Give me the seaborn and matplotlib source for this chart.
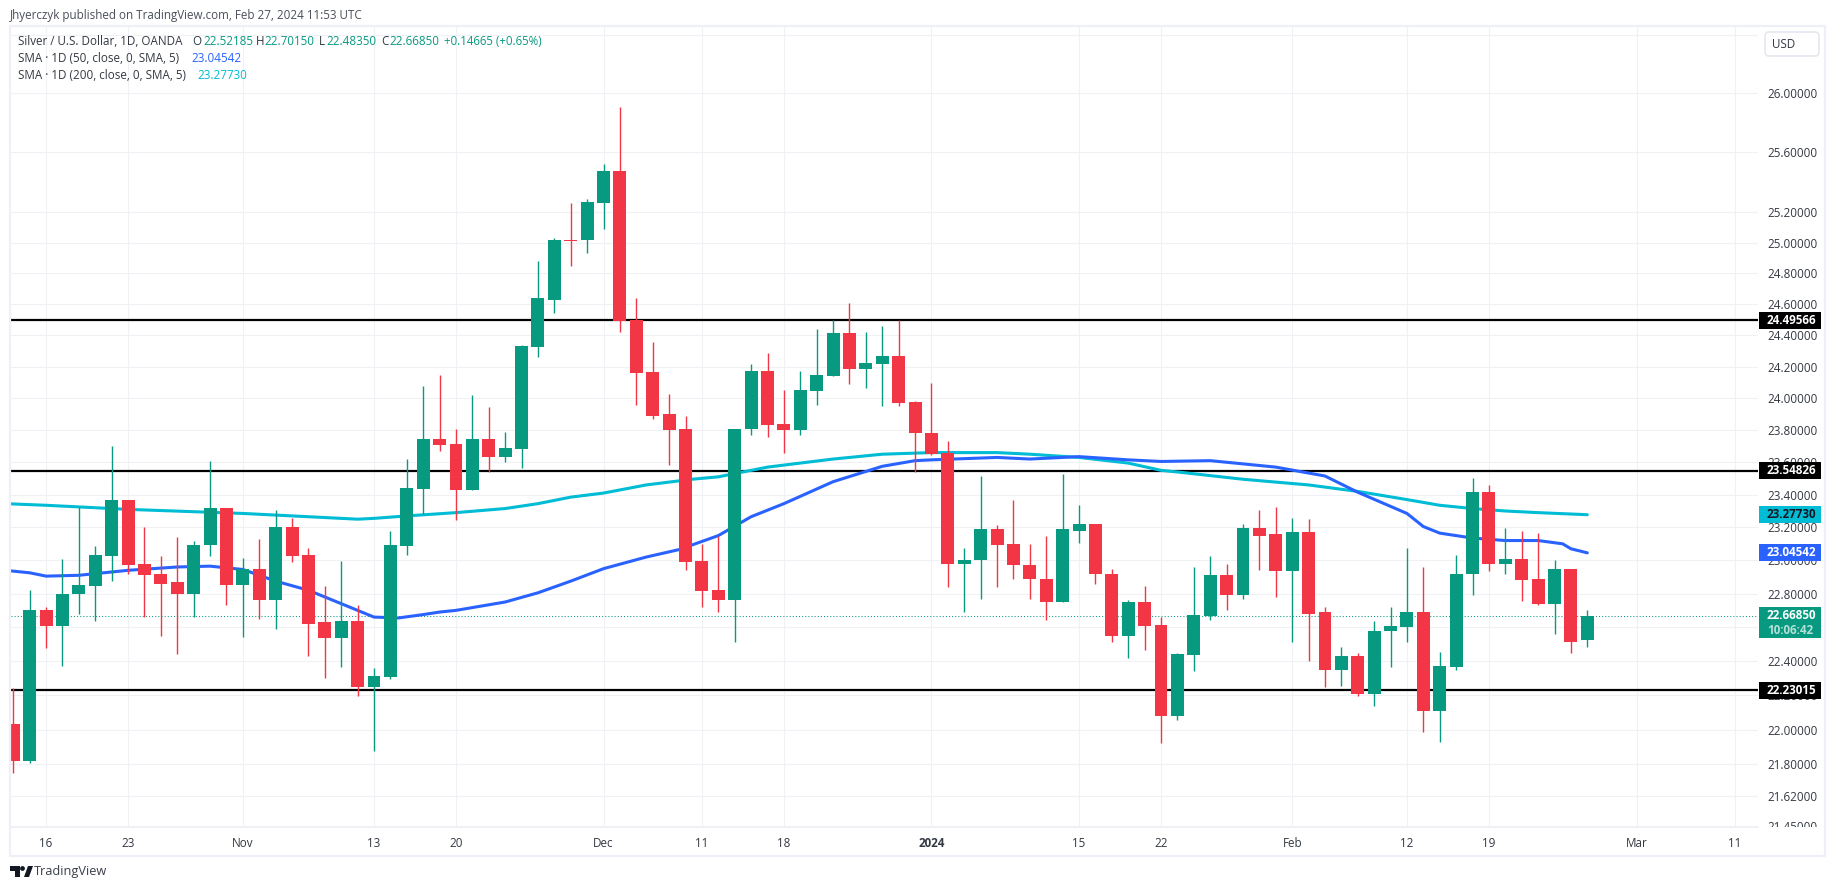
import pandas as pd
import seaborn as sns
import matplotlib.pyplot as plt
from matplotlib.patches import Rectangle, FancyBboxPatch, Polygon, Circle

# DATA (one value per trading day)
opens = [22.03, 21.82, 22.70, 22.605, 22.795, 22.845, 23.025, 23.365, 22.98, 22.915,
         22.87, 22.795, 23.09, 23.317, 22.85, 22.95, 22.76, 23.2, 23.03, 22.63,
         22.535, 22.635, 22.245, 22.305, 23.085, 23.435, 23.745, 23.715, 23.43, 23.745,
         23.63, 23.685, 24.325, 24.63, 25.02, 25.02, 25.26, 25.475, 24.50, 24.165,
         23.90, 23.805, 22.995, 22.82, 22.76, 23.805, 24.17, 23.84, 23.80, 24.045,
         24.14, 24.415, 24.185, 24.215, 24.265, 23.975, 23.785, 23.655, 22.98, 23.0,
         23.19, 23.10, 22.975, 22.89, 22.75, 23.18, 23.22, 22.92, 22.545, 22.75,
         22.615, 22.08, 22.435, 22.665, 22.91, 22.79, 23.195, 23.16, 22.935, 23.17,
         22.69, 22.345, 22.43, 22.205, 22.575, 22.6, 22.69, 22.11, 22.365, 22.915,
         23.415, 22.98, 23.01, 22.885, 22.74, 22.945, 22.52185]
highs = [22.24, 22.82, 22.72, 23.01, 23.325, 23.085, 23.70, 23.365, 23.205, 23.025,
         23.14, 23.12, 23.605, 23.32, 23.012, 23.13, 23.305, 23.255, 23.075, 22.845,
         22.995, 22.735, 22.36, 23.18, 23.62, 24.075, 24.145, 23.81, 24.02, 23.945,
         23.79, 24.335, 24.88, 25.03, 25.26, 25.29, 25.52, 25.905, 24.64, 24.36,
         24.025, 23.89, 23.10, 23.15, 23.81, 24.215, 24.29, 24.055, 24.17, 24.44,
         24.50, 24.605, 24.42, 24.46, 24.495, 23.98, 24.095, 23.73, 23.075, 23.515,
         23.215, 23.37, 23.10, 23.15, 23.53, 23.335, 23.22, 22.945, 22.76, 22.845,
         22.66, 22.45, 22.96, 23.025, 22.98, 23.22, 23.305, 23.325, 23.255, 23.25,
         22.72, 22.485, 22.445, 22.635, 22.72, 23.075, 22.96, 22.455, 23.035, 23.50,
         23.46, 23.195, 23.18, 23.165, 23.0, 22.945, 22.7015]
lows = [21.75, 21.81, 22.475, 22.37, 22.68, 22.635, 22.875, 22.915, 22.66, 22.55,
        22.44, 22.66, 23.025, 22.735, 22.54, 22.65, 22.59, 22.99, 22.43, 22.30,
        22.365, 22.195, 21.88, 22.295, 23.03, 23.28, 23.67, 23.245, 23.43, 23.54,
        23.60, 23.565, 24.26, 24.54, 24.845, 24.93, 25.09, 24.42, 23.96, 23.87,
        23.58, 22.94, 22.72, 22.69, 22.51, 23.77, 23.755, 23.66, 23.77, 23.955,
        24.14, 24.09, 24.065, 23.95, 23.95, 23.54, 23.645, 22.84, 22.69, 22.77,
        22.84, 22.89, 22.77, 22.64, 22.75, 23.105, 22.855, 22.51, 22.42, 22.465,
        21.925, 22.055, 22.34, 22.645, 22.70, 22.765, 22.94, 22.78, 22.51, 22.40,
        22.245, 22.255, 22.195, 22.14, 22.365, 22.515, 21.985, 21.93, 22.35, 22.79,
        22.935, 22.915, 22.755, 22.735, 22.56, 22.445, 22.4835]
closes = [21.82, 22.70, 22.605, 22.80, 22.85, 23.03, 23.365, 22.975, 22.91, 22.86,
          22.795, 23.095, 23.317, 22.85, 22.95, 22.76, 23.2, 23.025, 22.62, 22.535,
          22.635, 22.245, 22.31, 23.09, 23.44, 23.745, 23.71, 23.43, 23.745, 23.63,
          23.69, 24.33, 24.64, 25.02, 25.01, 25.27, 25.475, 24.49, 24.16, 23.89,
          23.80, 22.99, 22.815, 22.76, 23.81, 24.17, 23.835, 23.80, 24.05, 24.145,
          24.415, 24.185, 24.22, 24.265, 23.97, 23.78, 23.65, 22.98, 23.005, 23.19,
          23.095, 22.97, 22.885, 22.75, 23.19, 23.22, 22.915, 22.545, 22.75, 22.61,
          22.08, 22.44, 22.67, 22.91, 22.79, 23.195, 23.15, 22.935, 23.17, 22.68,
          22.345, 22.43, 22.205, 22.58, 22.605, 22.69, 22.11, 22.37, 22.92, 23.415,
          22.98, 23.01, 22.88, 22.74, 22.945, 22.515, 22.6685]

sma50_idx = [-1, 1, 2, 4, 7, 10, 12, 14, 16, 18, 20, 22, 23.5, 25, 26, 27, 30, 32, 34, 36, 38.6, 40.6,
             43, 45, 47, 50, 53, 55, 56, 60, 62, 65, 68, 70, 73, 77, 80, 82, 85, 86, 87, 89, 91,
             93, 94.5, 95, 96]
sma50_val = [22.945, 22.925, 22.905, 22.91, 22.94, 22.96, 22.965, 22.945, 22.875, 22.82, 22.74, 22.66,
             22.655, 22.675, 22.69, 22.70, 22.75, 22.805, 22.875, 22.95, 23.02, 23.065, 23.15, 23.265,
             23.345, 23.48, 23.575, 23.61, 23.615, 23.63, 23.62, 23.635, 23.615, 23.605, 23.61, 23.57,
             23.515, 23.415, 23.285, 23.205, 23.165, 23.135, 23.12, 23.12, 23.10, 23.07, 23.04542]
sma200_idx = [-1, 2, 7, 14, 21, 22, 24, 27, 30, 32, 34, 36, 38.6, 41.4, 43, 46, 50, 53, 56, 60, 62, 65,
              68, 70, 71, 75, 79, 82, 85, 87, 89, 91, 93, 96]
sma200_val = [23.347, 23.335, 23.31, 23.285, 23.25, 23.255, 23.27, 23.29, 23.315, 23.345, 23.385, 23.41,
              23.46, 23.495, 23.51, 23.57, 23.62, 23.65, 23.66, 23.66, 23.65, 23.63, 23.595, 23.55, 23.54,
              23.495, 23.46, 23.42, 23.37, 23.335, 23.315, 23.30, 23.29, 23.2773]

levels = [24.49566, 23.54826, 22.23015]
last_price = 22.6685

price_ticks = [26.4, 26.0, 25.6, 25.2, 25.0, 24.8, 24.6, 24.4, 24.2, 24.0, 23.8, 23.6, 23.4, 23.2,
               23.0, 22.8, 22.6, 22.4, 22.2, 22.0, 21.8, 21.62, 21.45]
date_ticks = [2, 7, 14, 22, 27, 36, 42, 47, 56, 65, 70, 78, 85, 90, 99, 105]
date_labels = ["16", "23", "Nov", "13", "20", "Dec", "11", "18", "2024", "15", "22", "Feb", "12", "19", "Mar", "11"]

# COLOURS
GREEN = "#089981"
RED = "#F23645"
BLUE = "#2962FF"
CYAN = "#00BCD4"
GRID = "#F0F1F5"
FRAME = "#EEF0F7"
TEXT = "#333842"

W, H = 1835, 891
sns.set_theme(style="white")
plt.rcParams["font.family"] = ["Open Sans", "DejaVu Sans"]
plt.rcParams["font.size"] = 8.4


def fx(px):
    return px / W


def fy(py):
    return 1 - py / H


def label(px, py, s, color=TEXT, size=8.4, **kw):
    fig.text(fx(px), fy(py), s, color=color, fontsize=size, va="center", **kw)


fig = plt.figure(figsize=(W / 100, H / 100), dpi=100)
ax = fig.add_axes([fx(10.5), fy(827), fx(1758 - 10.5), (827 - 27) / H])

df = pd.DataFrame({"open": opens, "high": highs, "low": lows, "close": closes})
df["day"] = range(len(df))
df["color"] = [GREEN if c >= o else RED for o, c in zip(df["open"], df["close"])]
df["bottom"] = df[["open", "close"]].min(axis=1)
df["body"] = (df["close"] - df["open"]).abs()

ax.set_yscale("log")

# LEVELS, LAST PRICE AND MOVING AVERAGES
for lv in levels:
    ax.axhline(lv, color="black", lw=1.6, zorder=2)
ax.axhline(last_price, color=GREEN, lw=0.75, ls=(0, (1, 2)), zorder=2)

sns.lineplot(x=sma200_idx, y=sma200_val, color=CYAN, lw=2.2, ax=ax, estimator=None, sort=False, zorder=3)
sns.lineplot(x=sma50_idx, y=sma50_val, color=BLUE, lw=2.2, ax=ax, estimator=None, sort=False, zorder=3)

# CANDLES
ax.vlines(df["day"], df["low"], df["high"], colors=df["color"], lw=1.0, zorder=4)
ax.bar(df["day"], df["body"], bottom=df["bottom"], width=0.79, color=df["color"], lw=0, zorder=5)

ax.set_xlim(-0.171, 106.41)
ax.set_ylim(21.445, 26.457)
ax.minorticks_off()
ax.set_yticks(price_ticks)
ax.set_yticklabels(["" if p == 26.4 else f"{p:.5f}" for p in price_ticks])
ax.set_xticks(date_ticks)
ax.set_xticklabels(date_labels)
for t in ax.get_xticklabels():
    if t.get_text() == "2024":
        t.set_fontweight("bold")
ax.yaxis.tick_right()
ax.tick_params(axis="both", which="both", length=0, labelsize=8.4, labelcolor=TEXT)
ax.tick_params(axis="y", pad=6.5)
ax.tick_params(axis="x", pad=7.5)
ax.grid(True, color=GRID, lw=0.8, zorder=0)
ax.set_axisbelow(True)
for side in ["top", "left", "right"]:
    ax.spines[side].set_visible(False)
ax.spines["bottom"].set_color(GRID)
ax.spines["bottom"].set_linewidth(0.8)

# OUTER FRAME, and hide the part of the lowest price label under the axis
fig.add_artist(Rectangle((fx(10), fy(856)), fx(1815), (856 - 26) / H, transform=fig.transFigure,
                         fill=False, ec=FRAME, lw=1.6, zorder=1))
fig.add_artist(Rectangle((fx(1760), fy(834)), fx(62), 7 / H, transform=fig.transFigure,
                         fc="white", ec="none", zorder=1))


# PRICE BOXES ON THE AXIS
def price_box(price, bg, fg, text, extra=None):
    py = H - ax.transData.transform((0, price))[1]
    top, bottom = py - 8.5, py + 8.5
    if extra:
        bottom = py + 22
    fig.add_artist(Rectangle((fx(1759), fy(bottom)), fx(62), (bottom - top) / H, transform=fig.transFigure,
                             fc=bg, ec="none", zorder=2))
    fig.text(fx(1767), fy(py), text, color=fg, fontsize=8.4, fontweight="bold", va="center", zorder=3)
    if extra:
        fig.text(fx(1767), fy(py + 15), extra, color="#B4E0D8", fontsize=8.4, fontweight="bold", va="center", zorder=3)


price_box(levels[0], "black", "white", "24.49566")
price_box(levels[1], "black", "white", "23.54826")
price_box(levels[2], "black", "white", "22.23015")
price_box(sma200_val[-1], CYAN, "#131722", "23.27730")
price_box(sma50_val[-1], BLUE, "white", "23.04542")
price_box(last_price, GREEN, "white", "22.66850", extra="10:06:42")

# USD BUTTON
fig.add_artist(FancyBboxPatch((1765, H - 56), 54, 24, boxstyle="round,pad=0,rounding_size=4",
                              transform=None, fc="white", ec="#E6E8F0", lw=1.2, zorder=2))
fig.text(fx(1772), fy(44.5), "USD", color=TEXT, fontsize=8.4, va="center", zorder=3)

# HEADER AND LEGEND TEXT
label(10, 15, "Jhyerczyk published on TradingView.com, Feb 27, 2024 11:53 UTC", size=8.4, color="#4A4F5A")
label(18, 41.5, "Silver / U.S. Dollar, 1D, OANDA")
label(192, 41.5, "O")
label(203, 41.5, "22.52185", color=GREEN)
label(256, 41.5, "H")
label(264, 41.5, "22.70150", color=GREEN)
label(319, 41.5, "L")
label(326, 41.5, "22.48350", color=GREEN)
label(381, 41.5, "C")
label(389, 41.5, "22.66850", color=GREEN)
label(444, 41.5, "+0.14665 (+0.65%)", color=GREEN, size=8.3)
label(18, 58.7, "SMA · 1D (50, close, 0, SMA, 5)")
label(191, 58.7, "23.04542", color=BLUE)
label(18, 75.7, "SMA · 1D (200, close, 0, SMA, 5)")
label(197, 75.7, "23.27730", color=CYAN)

# TRADINGVIEW MARK
for pts in [[(10, 866), (20, 866), (20, 877), (15, 877), (15, 871), (10, 871)],
            [(24, 877), (28, 866), (33, 866), (29, 877)]]:
    fig.add_artist(Polygon([(fx(a), fy(b)) for a, b in pts], closed=True, transform=fig.transFigure,
                           fc="#131722", ec="none"))
fig.add_artist(Circle((22.5, H - 868.5), 2.4, transform=None, fc="#131722", ec="none"))
label(34, 872, "TradingView", size=9.2, color="#3A3F4A")

fig.savefig("out.png", dpi=100)
